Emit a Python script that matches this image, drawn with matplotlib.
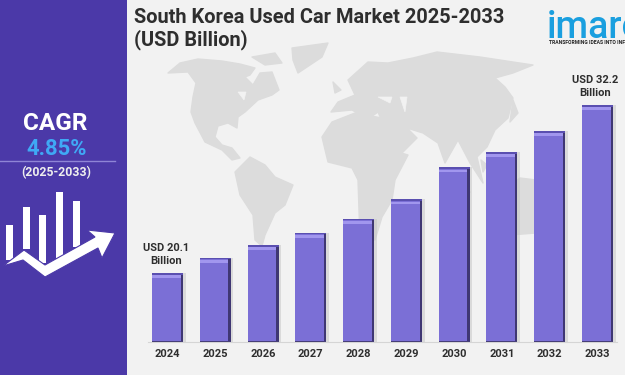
#!/usr/bin/env python3
# South Korea used car market infographic
import numpy as np
import matplotlib
matplotlib.use('Agg')
import matplotlib.pyplot as plt
from matplotlib.patches import Polygon, Rectangle, Circle

years = ['2024', '2025', '2026', '2027', '2028', '2029', '2030', '2031', '2032', '2033']
values = [20.1, 21.2, 22.1, 23.0, 24.0, 25.4, 27.7, 28.8, 30.3, 32.2]
title = 'South Korea Used Car Market 2025-2033\n(USD Billion)'
cagr_label = 'CAGR'
cagr_value = '4.85%'
cagr_period = '(2025-2033)'

# World map outlines, background picture in pixels
north_america = [(168,73),(180,63),(198,59),(222,61),(240,64),(255,68),(250,75),(245,77),(253,85),(260,73),(272,72),(279,90),(272,95),(258,100),(245,112),(238,117),(237,128),(228,123),(218,126),(215,137),(222,145),(232,148),(240,158),(232,160),(222,150),(205,142),(195,123),(191,112),(193,97),(196,83),(188,72)]
arctic = [(252,57),(275,53),(282,63),(265,65)]
greenland = [(292,48),(328,43),(322,57),(298,73),(293,60)]
south_america = [(235,172),(250,157),(265,165),(275,177),(293,185),(285,205),(275,213),(265,235),(262,246),(255,240),(253,215),(240,195)]
africa = [(322,137),(332,122),(355,113),(382,118),(392,133),(398,152),(408,155),(395,180),(392,200),(382,217),(375,240),(360,240),(358,180),(352,168),(328,162)]
eurasia = [(331,112),(338,102),(355,95),(348,80),(368,62),(388,63),(413,58),(437,52),(480,57),(513,62),(533,65),(513,73),(495,78),(505,87),(513,98),(508,118),(495,130),(487,147),(477,157),(483,183),(470,163),(458,140),(445,163),(438,143),(423,133),(407,128),(417,138),(400,155),(385,128),(378,112),(368,119),(352,110)]
australia = [(505,190),(520,178),(536,180),(546,210),(536,233),(510,235)]
islands = [[(333,82),(341,90),(335,93)], [(513,100),(518,113),(510,122)], [(443,183),(470,192),(466,197),(445,190)], [(481,160),(487,165),(483,172)]]
inland_seas = [[(400,97),(407,97),(405,112)], [(378,97),(392,97),(390,103)], [(238,92),(246,92),(244,100)]]

# Arrow and bars of the icon in the side panel
icon_bars = [(6,225,7,35), (23,207,7,42), (39,215,7,48), (56,192,7,66), (73,201,7,46)]
icon_arrow = [(3,266),(24,250),(45,265),(95,237),(87,230),(115,233),(102,258),(98,248),(45,277),(23,260)]

BG = '#f2f2f2'
PANEL = '#4b39a8'
MAP = '#dcdcdc'
BAR = '#7b6fd6'
TEXT = '#2e2e2e'

plt.rcParams['font.family'] = ['Roboto', 'DejaVu Sans']
fig = plt.figure(figsize=(6.25, 3.75), dpi=100, facecolor=BG)

# Background layer
bg = fig.add_axes([0, 0, 1, 1])
bg.set_xlim(0, 625)
bg.set_ylim(375, 0)
bg.axis('off')
for outline in [north_america, arctic, greenland, south_america, africa, eurasia, australia] + islands:
    bg.add_patch(Polygon(outline, closed=True, fc=MAP, ec=MAP, lw=1, joinstyle='round'))
for outline in inland_seas:
    bg.add_patch(Polygon(outline, closed=True, fc=BG, ec=BG, lw=0.5))
bg.add_patch(Rectangle((0, 0), 127, 375, fc=PANEL, ec='none'))
bg.plot([0, 115], [161, 161], color='#8f85d6', lw=1)
bg.text(55, 123, cagr_label, color='white', fontsize=17.5, fontweight='bold', ha='center', va='center')
bg.text(57, 149, cagr_value, color='#3fa9f5', fontsize=15.8, fontweight='bold', ha='center', va='center')
bg.text(56, 173, cagr_period, color='#eeeeee', fontsize=8.8, fontweight='bold', ha='center', va='center')
for x0, y0, w, h in icon_bars:
    bg.add_patch(Rectangle((x0, y0), w, h, fc='white', ec='none'))
bg.add_patch(Polygon(icon_arrow, closed=True, fc='white', ec=PANEL, lw=0.8))

bg.text(134, 29, title, color=TEXT, fontsize=14.4, fontweight='bold', ha='left', va='center', linespacing=1.15)

# imarc logo, cut by the right edge like the original
bg.text(547, 38, 'imarc', color='#1a9fdf', fontsize=27, fontweight='medium', ha='left', va='baseline', clip_on=True)
bg.text(549, 42.5, 'TRANSFORMING IDEAS INTO INFO', color='#222222', fontsize=3.6, fontweight='bold', ha='left', va='center', clip_on=True)

# Bars
ax = fig.add_axes([0, 33/375, 1, 282/375])
ax.patch.set_alpha(0)
x = np.arange(len(years))
ax.set_xlim(-167.5/47.78, (625-167.5)/47.78)
ax.set_ylim(15.13, 35.43)
vals = np.array(values)
ax.bar(x + 0.05, vals - 15.13, bottom=15.13, width=0.66, color='#c4c4c4', alpha=0.5, zorder=1)
ax.bar(x, vals - 15.13, bottom=15.13, width=0.65, color='#3f3773', zorder=2)
ax.bar(x - 0.025, vals - 15.13 - 0.15, bottom=15.13 + 0.1, width=0.60, color=BAR, zorder=3)
ax.bar(x - 0.025, 0.2, bottom=vals - 0.36, width=0.60, color='#a196ee', zorder=4)
ax.bar(x, 0.12, bottom=vals - 0.12, width=0.65, color='#5a4fb0', zorder=4)

ax.set_xticks(x, years, fontsize=8, fontweight='bold', color=TEXT)
ax.tick_params(axis='x', length=0, pad=5)
ax.set_yticks([])
for side in ['top', 'left', 'right']:
    ax.spines[side].set_visible(False)
ax.spines['bottom'].set_color('#d5d5d5')
ax.spines['bottom'].set_bounds(-0.4, 9.4)

ax.annotate(f'USD {values[0]}\nBillion', (x[0], values[0]), xytext=(-1, 5), textcoords='offset points',
            ha='center', va='bottom', fontsize=8, fontweight='bold', color=TEXT, linespacing=1.4)
ax.annotate(f'USD {values[-1]}\nBillion', (x[-1], values[-1]), xytext=(-2, 5), textcoords='offset points',
            ha='center', va='bottom', fontsize=8, fontweight='bold', color=TEXT, linespacing=1.4)

fig.savefig('out.png', dpi=100, facecolor=BG)
